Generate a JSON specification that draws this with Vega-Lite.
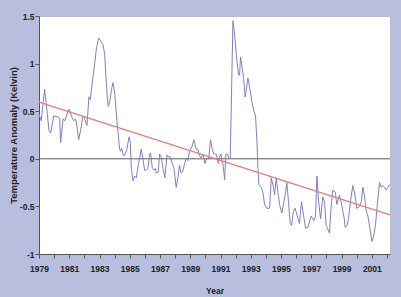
{
  "$schema": "https://vega.github.io/schema/vega-lite/v6.json",
  "autosize": "none",
  "width": 351,
  "height": 238,
  "padding": {"left": 39, "top": 16, "right": 11, "bottom": 43},
  "background": "#b8bfde",
  "datasets": {
    "anomaly": [
      {"year": 1979.00, "value": 0.47}, {"year": 1979.15, "value": 0.40}, {"year": 1979.37, "value": 0.73},
      {"year": 1979.53, "value": 0.50}, {"year": 1979.66, "value": 0.30}, {"year": 1979.77, "value": 0.27},
      {"year": 1979.97, "value": 0.45}, {"year": 1980.26, "value": 0.44}, {"year": 1980.37, "value": 0.42},
      {"year": 1980.43, "value": 0.17}, {"year": 1980.59, "value": 0.42}, {"year": 1980.70, "value": 0.40},
      {"year": 1980.92, "value": 0.50}, {"year": 1980.98, "value": 0.52}, {"year": 1981.14, "value": 0.45},
      {"year": 1981.29, "value": 0.40}, {"year": 1981.42, "value": 0.42}, {"year": 1981.53, "value": 0.32},
      {"year": 1981.62, "value": 0.20}, {"year": 1981.75, "value": 0.30}, {"year": 1981.91, "value": 0.45},
      {"year": 1982.02, "value": 0.42}, {"year": 1982.17, "value": 0.35}, {"year": 1982.30, "value": 0.65},
      {"year": 1982.39, "value": 0.62}, {"year": 1982.52, "value": 0.80}, {"year": 1982.68, "value": 1.00},
      {"year": 1982.79, "value": 1.15}, {"year": 1982.94, "value": 1.27}, {"year": 1983.07, "value": 1.24},
      {"year": 1983.23, "value": 1.20}, {"year": 1983.34, "value": 1.10}, {"year": 1983.45, "value": 0.80},
      {"year": 1983.51, "value": 0.65}, {"year": 1983.58, "value": 0.55}, {"year": 1983.67, "value": 0.60},
      {"year": 1983.82, "value": 0.75}, {"year": 1983.89, "value": 0.80}, {"year": 1984.00, "value": 0.70},
      {"year": 1984.15, "value": 0.40}, {"year": 1984.24, "value": 0.25}, {"year": 1984.33, "value": 0.10},
      {"year": 1984.40, "value": 0.08}, {"year": 1984.46, "value": 0.11}, {"year": 1984.59, "value": 0.03},
      {"year": 1984.70, "value": 0.05}, {"year": 1984.81, "value": 0.10}, {"year": 1984.95, "value": 0.23},
      {"year": 1985.03, "value": 0.18}, {"year": 1985.10, "value": -0.10}, {"year": 1985.21, "value": -0.23},
      {"year": 1985.32, "value": -0.18}, {"year": 1985.43, "value": -0.20}, {"year": 1985.58, "value": -0.05},
      {"year": 1985.76, "value": 0.10}, {"year": 1985.87, "value": 0.00}, {"year": 1985.98, "value": -0.12},
      {"year": 1986.09, "value": -0.12}, {"year": 1986.20, "value": -0.10}, {"year": 1986.31, "value": 0.05},
      {"year": 1986.38, "value": 0.06}, {"year": 1986.49, "value": -0.10}, {"year": 1986.60, "value": -0.12},
      {"year": 1986.69, "value": -0.10}, {"year": 1986.75, "value": -0.15}, {"year": 1986.88, "value": -0.14},
      {"year": 1986.97, "value": 0.05}, {"year": 1987.08, "value": 0.02}, {"year": 1987.19, "value": -0.10},
      {"year": 1987.32, "value": -0.20}, {"year": 1987.46, "value": 0.04}, {"year": 1987.57, "value": 0.02},
      {"year": 1987.68, "value": 0.02}, {"year": 1987.81, "value": -0.05}, {"year": 1987.92, "value": -0.10},
      {"year": 1988.07, "value": -0.30}, {"year": 1988.18, "value": -0.20}, {"year": 1988.29, "value": -0.07},
      {"year": 1988.40, "value": -0.15}, {"year": 1988.51, "value": -0.13}, {"year": 1988.62, "value": -0.05},
      {"year": 1988.73, "value": 0.00}, {"year": 1988.84, "value": -0.02}, {"year": 1988.95, "value": 0.08},
      {"year": 1989.11, "value": 0.13}, {"year": 1989.24, "value": 0.20}, {"year": 1989.39, "value": 0.10},
      {"year": 1989.50, "value": 0.10}, {"year": 1989.61, "value": 0.03}, {"year": 1989.72, "value": 0.01},
      {"year": 1989.83, "value": 0.05}, {"year": 1989.97, "value": -0.05}, {"year": 1990.06, "value": 0.00},
      {"year": 1990.21, "value": 0.00}, {"year": 1990.34, "value": 0.20}, {"year": 1990.45, "value": 0.10},
      {"year": 1990.56, "value": 0.05}, {"year": 1990.72, "value": 0.05}, {"year": 1990.85, "value": -0.05},
      {"year": 1990.94, "value": 0.02}, {"year": 1991.02, "value": 0.05}, {"year": 1991.11, "value": -0.05},
      {"year": 1991.16, "value": -0.05}, {"year": 1991.27, "value": -0.22}, {"year": 1991.35, "value": 0.05},
      {"year": 1991.46, "value": 0.05}, {"year": 1991.57, "value": 0.00}, {"year": 1991.64, "value": 0.00},
      {"year": 1991.82, "value": 1.45}, {"year": 1991.93, "value": 1.30}, {"year": 1992.04, "value": 1.10},
      {"year": 1992.10, "value": 1.00}, {"year": 1992.19, "value": 0.88}, {"year": 1992.26, "value": 0.88},
      {"year": 1992.32, "value": 1.07}, {"year": 1992.41, "value": 0.98}, {"year": 1992.52, "value": 0.85},
      {"year": 1992.63, "value": 0.65}, {"year": 1992.70, "value": 0.72}, {"year": 1992.81, "value": 0.85},
      {"year": 1992.92, "value": 0.75}, {"year": 1993.07, "value": 0.60}, {"year": 1993.20, "value": 0.50},
      {"year": 1993.31, "value": 0.45}, {"year": 1993.40, "value": 0.20}, {"year": 1993.47, "value": -0.10},
      {"year": 1993.53, "value": -0.27}, {"year": 1993.69, "value": -0.30}, {"year": 1993.80, "value": -0.35},
      {"year": 1993.91, "value": -0.48}, {"year": 1994.06, "value": -0.52}, {"year": 1994.24, "value": -0.52},
      {"year": 1994.35, "value": -0.20}, {"year": 1994.50, "value": -0.30}, {"year": 1994.57, "value": -0.38},
      {"year": 1994.68, "value": -0.20}, {"year": 1994.79, "value": -0.35}, {"year": 1994.90, "value": -0.48},
      {"year": 1995.05, "value": -0.57}, {"year": 1995.19, "value": -0.45}, {"year": 1995.30, "value": -0.35},
      {"year": 1995.38, "value": -0.25}, {"year": 1995.49, "value": -0.45}, {"year": 1995.60, "value": -0.68},
      {"year": 1995.69, "value": -0.70}, {"year": 1995.82, "value": -0.55}, {"year": 1995.93, "value": -0.52},
      {"year": 1996.07, "value": -0.60}, {"year": 1996.16, "value": -0.65}, {"year": 1996.22, "value": -0.68},
      {"year": 1996.35, "value": -0.45}, {"year": 1996.49, "value": -0.60}, {"year": 1996.62, "value": -0.73},
      {"year": 1996.77, "value": -0.72}, {"year": 1996.90, "value": -0.65}, {"year": 1996.99, "value": -0.60},
      {"year": 1997.17, "value": -0.65}, {"year": 1997.28, "value": -0.60}, {"year": 1997.37, "value": -0.18},
      {"year": 1997.48, "value": -0.45}, {"year": 1997.61, "value": -0.63}, {"year": 1997.76, "value": -0.40},
      {"year": 1997.87, "value": -0.45}, {"year": 1997.98, "value": -0.70}, {"year": 1998.20, "value": -0.78},
      {"year": 1998.31, "value": -0.50}, {"year": 1998.42, "value": -0.33}, {"year": 1998.58, "value": -0.35},
      {"year": 1998.69, "value": -0.48}, {"year": 1998.86, "value": -0.38}, {"year": 1998.97, "value": -0.45},
      {"year": 1999.08, "value": -0.55}, {"year": 1999.15, "value": -0.60}, {"year": 1999.24, "value": -0.72},
      {"year": 1999.37, "value": -0.70}, {"year": 1999.46, "value": -0.62}, {"year": 1999.59, "value": -0.45},
      {"year": 1999.74, "value": -0.28}, {"year": 1999.85, "value": -0.35}, {"year": 2000.01, "value": -0.52},
      {"year": 2000.19, "value": -0.50}, {"year": 2000.30, "value": -0.45}, {"year": 2000.41, "value": -0.30},
      {"year": 2000.52, "value": -0.40}, {"year": 2000.63, "value": -0.55}, {"year": 2000.74, "value": -0.60},
      {"year": 2000.89, "value": -0.75}, {"year": 2001.00, "value": -0.87}, {"year": 2001.11, "value": -0.82},
      {"year": 2001.24, "value": -0.70}, {"year": 2001.35, "value": -0.50}, {"year": 2001.51, "value": -0.25},
      {"year": 2001.62, "value": -0.30}, {"year": 2001.73, "value": -0.28}, {"year": 2001.84, "value": -0.30},
      {"year": 2001.95, "value": -0.33}, {"year": 2002.06, "value": -0.30}, {"year": 2002.17, "value": -0.27}
    ],
    "trend": [
      {"year": 1979.0, "value": 0.596},
      {"year": 2002.2, "value": -0.589}
    ],
    "zero": [
      {"year": 1979.0, "value": 0},
      {"year": 2002.2, "value": 0}
    ]
  },
  "config": {
    "view": {"fill": "white", "stroke": "#b8bccc", "strokeWidth": 1},
    "font": "Liberation Sans"
  },
  "encoding": {
    "x": {
      "field": "year", "type": "quantitative",
      "scale": {"domain": [1979, 2002.2], "nice": false, "zero": false},
      "axis": {
        "title": "Year",
        "values": [1979, 1980, 1981, 1982, 1983, 1984, 1985, 1986, 1987, 1988, 1989, 1990, 1991, 1992, 1993, 1994, 1995, 1996, 1997, 1998, 1999, 2000, 2001, 2002],
        "labelExpr": "datum.value % 2 == 1 ? datum.label : ''",
        "format": "d",
        "grid": false,
        "domainColor": "#555555",
        "tickColor": "#555555",
        "tickSize": 4,
        "labelFont": "Liberation Sans",
        "labelFontSize": 8.5,
        "labelFontWeight": "bold",
        "labelColor": "#222222",
        "labelPadding": 6,
        "labelFlush": false,
        "labelOverlap": false,
        "titleFont": "Liberation Sans",
        "titleFontSize": 8.5,
        "titleFontWeight": "bold",
        "titleColor": "#222222",
        "titlePadding": 14
      }
    },
    "y": {
      "field": "value", "type": "quantitative",
      "scale": {"domain": [-1, 1.5], "nice": false, "zero": false},
      "axis": {
        "title": "Temperature Anomaly (Kelvin)",
        "values": [-1, -0.5, 0, 0.5, 1, 1.5],
        "labelExpr": "toString(datum.value)",
        "grid": false,
        "domainColor": "#555555",
        "tickColor": "#555555",
        "tickSize": 4,
        "labelFont": "Liberation Sans",
        "labelFontSize": 8.5,
        "labelFontWeight": "bold",
        "labelColor": "#222222",
        "labelPadding": 1,
        "labelFlush": false,
        "labelOverlap": false,
        "titleFont": "Liberation Sans",
        "titleFontSize": 9.5,
        "titleFontWeight": "bold",
        "titleColor": "#222222",
        "titlePadding": 1
      }
    }
  },
  "layer": [
    {
      "data": {"name": "zero"},
      "mark": {"type": "line", "color": "#5a5a5a", "strokeWidth": 1}
    },
    {
      "data": {"name": "anomaly"},
      "mark": {"type": "line", "color": "#8080bd", "strokeWidth": 1}
    },
    {
      "data": {"name": "trend"},
      "mark": {"type": "line", "color": "#ea7a7a", "strokeWidth": 1.2}
    }
  ]
}
